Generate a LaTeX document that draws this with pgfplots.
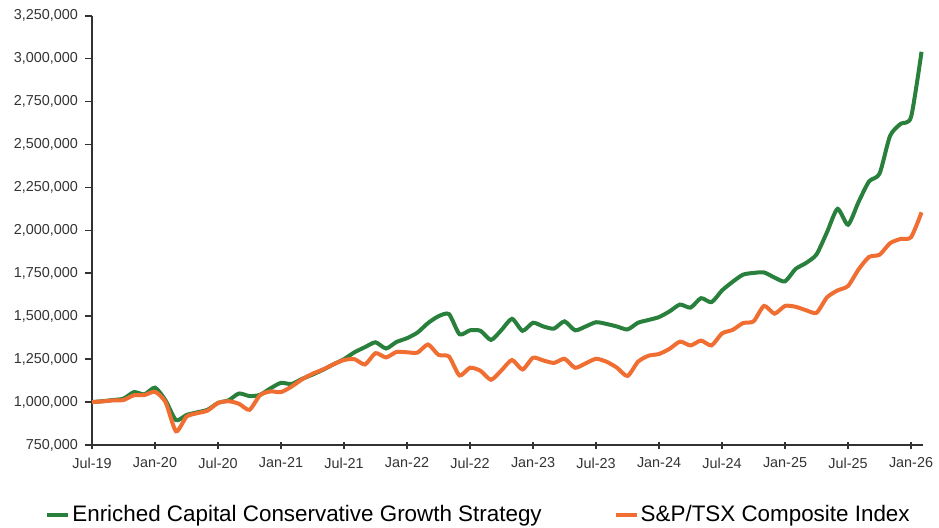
\documentclass[border=0pt]{standalone}
\usepackage{fontspec}
\setmainfont{Liberation Sans}
\usepackage{pgfplots}
\usepackage{pgfplotstable}
\pgfplotsset{compat=1.18}
\definecolor{ecgreen}{RGB}{40,128,60}
\definecolor{tsxorange}{RGB}{240,110,50}
\definecolor{axgray}{RGB}{50,50,50}

\pgfplotstableread{
m v
0 1000000
1 1005000
2 1012000
3 1020000
4 1058000
5 1045000
6 1084000
7 1010000
8 895000
9 925000
10 940000
11 955000
12 995000
13 1010000
14 1050000
15 1035000
16 1042000
17 1080000
18 1112000
19 1105000
20 1135000
21 1160000
22 1188000
23 1220000
24 1250000
25 1290000
26 1320000
27 1348000
28 1312000
29 1350000
30 1372000
31 1405000
32 1460000
33 1500000
34 1512000
35 1395000
36 1418000
37 1415000
38 1362000
39 1420000
40 1485000
41 1415000
42 1462000
43 1440000
44 1428000
45 1470000
46 1418000
47 1440000
48 1465000
49 1455000
50 1440000
51 1423000
52 1462000
53 1478000
54 1495000
55 1528000
56 1568000
57 1550000
58 1605000
59 1582000
60 1650000
61 1700000
62 1742000
63 1752000
64 1755000
65 1725000
66 1703000
67 1775000
68 1810000
69 1860000
70 1990000
71 2125000
72 2033000
73 2165000
74 2285000
75 2330000
76 2550000
77 2620000
78 2660000
79 3040000
}\greendata

\pgfplotstableread{
m v
0 1000000
1 1004000
2 1010000
3 1012000
4 1040000
5 1041000
6 1060000
7 1000000
8 830000
9 915000
10 935000
11 950000
12 995000
13 1005000
14 990000
15 955000
16 1040000
17 1062000
18 1058000
19 1090000
20 1132000
21 1165000
22 1190000
23 1220000
24 1245000
25 1250000
26 1219000
27 1285000
28 1260000
29 1292000
30 1290000
31 1288000
32 1335000
33 1275000
34 1265000
35 1155000
36 1200000
37 1182000
38 1130000
39 1185000
40 1245000
41 1190000
42 1258000
43 1242000
44 1228000
45 1252000
46 1200000
47 1225000
48 1252000
49 1235000
50 1200000
51 1152000
52 1235000
53 1270000
54 1280000
55 1310000
56 1352000
57 1330000
58 1358000
59 1330000
60 1400000
61 1420000
62 1460000
63 1470000
64 1560000
65 1515000
66 1560000
67 1555000
68 1535000
69 1520000
70 1610000
71 1650000
72 1676000
73 1772000
74 1845000
75 1858000
76 1925000
77 1950000
78 1960000
79 2105000
}\orangedata

\begin{document}
\begin{tikzpicture}
\path[use as bounding box] (-46pt,-41pt) rectangle (423.5pt,222.5pt);
\begin{axis}[
  scale only axis,
  width=415.5pt, height=214.65pt,
  at={(0,0)}, anchor=south west,
  xmin=0, xmax=79.14,
  ymin=750000, ymax=3250000,
  axis lines=left,
  axis line style={-, axgray, line width=1pt},
  xtick={0,6,...,78},
  xticklabels={Jul-19,Jan-20,Jul-20,Jan-21,Jul-21,Jan-22,Jul-22,Jan-23,Jul-23,Jan-24,Jul-24,Jan-25,Jul-25,Jan-26},
  ytick={750000,1000000,...,3250000},
  scaled y ticks=false,
  /pgf/number format/.cd, fixed, 1000 sep={,}, assume math mode=true,
  /pgfplots/.cd,
  major tick length=3.5pt,
  x tick style={axgray, line width=0.8pt},
  y tick style={axgray, line width=0.8pt},
  xtick align=center,
  ytick align=outside,
  ticklabel style={font=\fontsize{7.2}{8}\selectfont, text=black!80},
  xticklabel style={yshift=-1pt},
  legend style={draw=none, fill=none, inner sep=0pt, at={(-0.0566,-0.163)}, anchor=west,
    font=\fontsize{11.2}{13}\selectfont, legend columns=2,
    nodes={inner xsep=1pt},
    /tikz/every even column/.append style={column sep=35pt}},
  legend image code/.code={\draw[#1, line width=2pt] (0pt,0pt) -- (10.5pt,0pt);},
  clip=false,
]
\addplot[ecgreen, line width=2pt, smooth, tension=0.4] table[x=m, y=v] {\greendata};
\addlegendentry{Enriched Capital Conservative Growth Strategy}
\addplot[tsxorange, line width=2pt, smooth, tension=0.4] table[x=m, y=v] {\orangedata};
\addlegendentry{S\&P/TSX Composite Index}
\end{axis}
\end{tikzpicture}
\end{document}
